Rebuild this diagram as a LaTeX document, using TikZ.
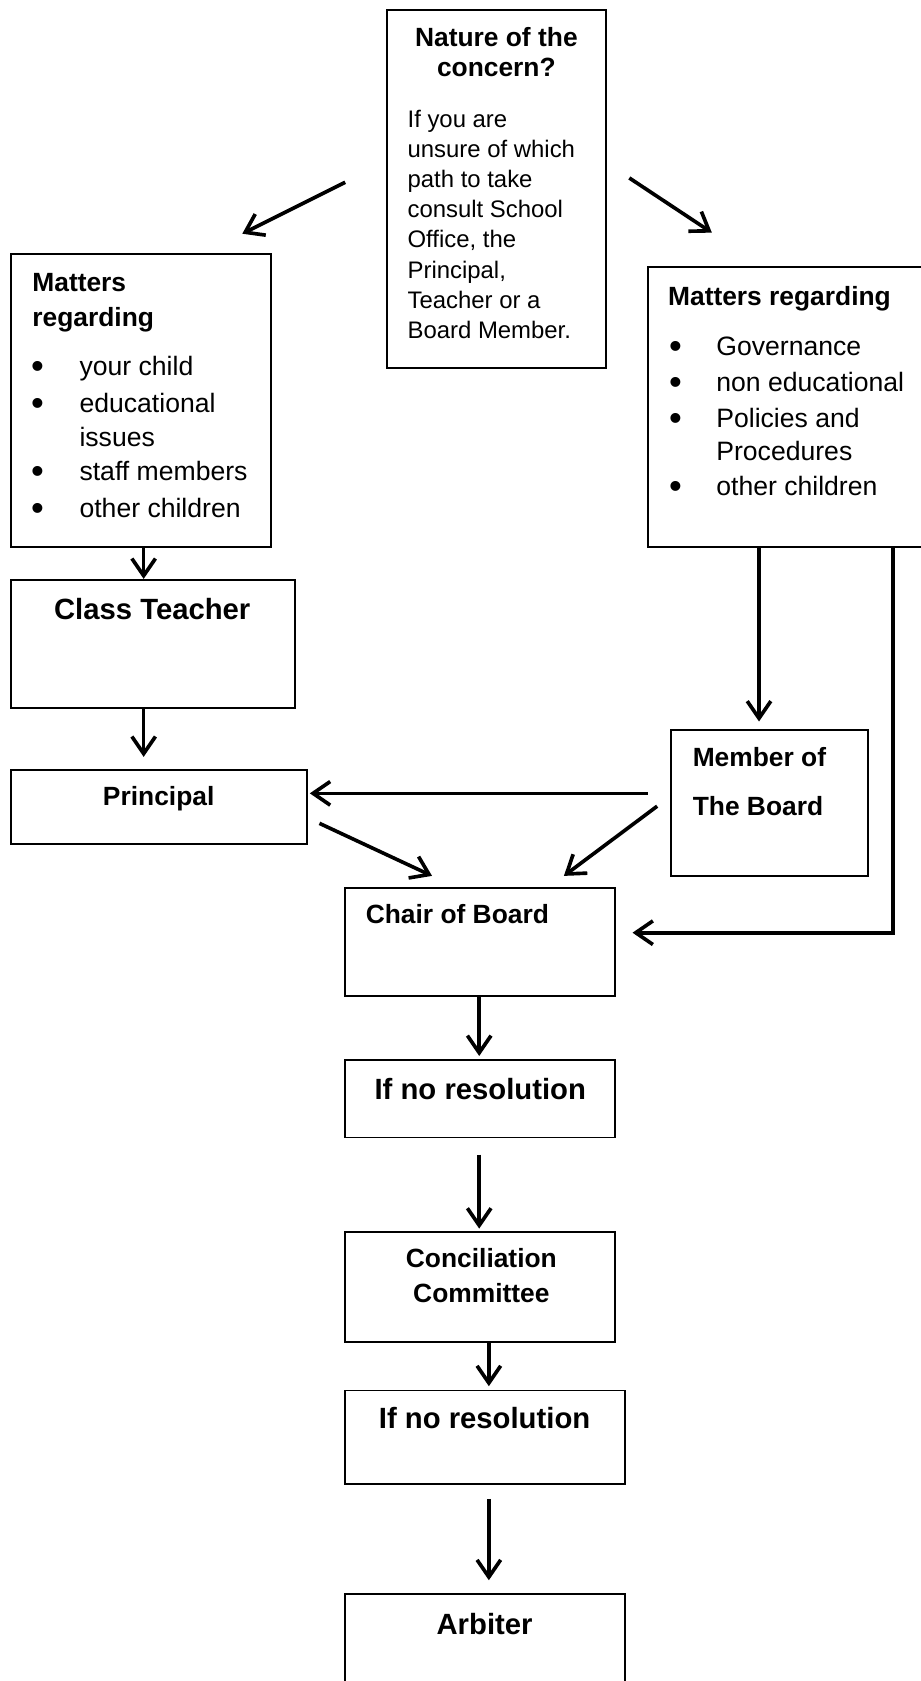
\documentclass[tikz,border=0pt]{standalone}
\usepackage{fontspec}
\setmainfont{Liberation Sans}
\usetikzlibrary{arrows.meta,calc}
\begin{document}
\begin{tikzpicture}[x=1pt,y=-1pt,
  box/.style={draw, line width=1.8pt, anchor=north west, inner sep=0pt, outer sep=0pt},
  arr/.style={line width=3.4pt, line join=miter, -{Straight Barb[length=16pt,width=22pt]}},
  tl/.style={anchor=base west, inner sep=0pt},
  tc/.style={anchor=base, inner sep=0pt},
  hb/.style={font=\fontsize{24.6}{30}\selectfont\bfseries},
  hbig/.style={font=\fontsize{27.3}{32}\selectfont\bfseries},
  bt/.style={font=\fontsize{24.8}{30}\selectfont},
  st/.style={font=\fontsize{22.3}{28}\selectfont},
  bul/.style={anchor=base, inner sep=0pt, font=\fontsize{34}{34}\selectfont},
]
\useasboundingbox (0,0) rectangle (859,1568);
\clip (0,0) rectangle (859,1568);

% boxes
\node[box, minimum width=204pt, minimum height=334pt] (nat) at (361,9) {};
\node[box, minimum width=243pt, minimum height=273pt] (lm) at (10,237) {};
\node[box, minimum width=262pt, minimum height=261pt] (rm) at (604,249) {};
\node[box, minimum width=265pt, minimum height=119pt] (ct) at (10,541) {};
\node[box, minimum width=276pt, minimum height=69pt] (pr) at (10,718) {};
\node[box, minimum width=184pt, minimum height=136pt] (mb) at (626,681) {};
\node[box, minimum width=252pt, minimum height=101pt] (ch) at (322,828) {};
\node[box, minimum width=252pt, minimum height=72pt] (nr1) at (322,989) {};
\node[box, minimum width=252pt, minimum height=103pt] (cc) at (322,1149) {};
\node[box, minimum width=261pt, minimum height=87pt] (nr2) at (322,1297) {};
\node[box, minimum width=261pt, minimum height=110pt] (ar) at (322,1487) {};

% Nature text
\node[tc,hb] (nat1) at (463,43.6) {Nature of the};
\node[tc,hb] (nat2) at (463,71.6) {concern?};
\node[tl,st] (nb1) at (380,119) {If you are};
\node[tl,st] (nb2) at (380,147) {unsure of which};
\node[tl,st] (nb3) at (380,175) {path to take};
\node[tl,st] (nb4) at (380,203) {consult School};
\node[tl,st] (nb5) at (380,231) {Office, the};
\node[tl,st] (nb6) at (380,260) {Principal,};
\node[tl,st] (nb7) at (380,288) {Teacher or a};
\node[tl,st] (nb8) at (380,316) {Board Member.};

% Left matters
\node[tl,hb] (lm1) at (30,271.6) {Matters};
\node[tl,hb] (lm2) at (30,304.6) {regarding};
\node[bul] (lb1) at (35,353.4) {•};
\node[tl,bt] (li1) at (74,350.6) {your child};
\node[bul] (lb2) at (35,387.4) {•};
\node[tl,bt] (li2) at (74,384.6) {educational};
\node[tl,bt] (li2b) at (74,416.6) {issues};
\node[bul] (lb3) at (35,451.4) {•};
\node[tl,bt] (li3) at (74,448.6) {staff members};
\node[bul] (lb4) at (35,485.4) {•};
\node[tl,bt] (li4) at (74,482.6) {other children};

% Right matters
\node[tl,hb] (rm1) at (623,284.6) {Matters regarding};
\node[bul] (rb1) at (630,334.4) {•};
\node[tl,bt] (ri1) at (668,331.6) {Governance};
\node[bul] (rb2) at (630,368.4) {•};
\node[tl,bt] (ri2) at (668,365.6) {non educational};
\node[bul] (rb3) at (630,401.4) {•};
\node[tl,bt] (ri3) at (668,398.6) {Policies and};
\node[tl,bt] (ri3b) at (668,429.6) {Procedures};
\node[bul] (rb4) at (630,465.4) {•};
\node[tl,bt] (ri4) at (668,462.6) {other children};

% other texts
\node[tc,hbig] (ctt) at (142,577.5) {Class Teacher};
\node[tc,hb] (prt) at (148,751.5) {Principal};
\node[tl,hb] (mbt1) at (646,714.6) {Member of};
\node[tl,hb] (mbt2) at (646,760.6) {The Board};
\node[tl,hb] (cht) at (341,861.6) {Chair of Board};
\node[tc,hbig] (nr1t) at (448,1025.5) {If no resolution};
\node[tc,hb] (cct1) at (449,1182.6) {Conciliation};
\node[tc,hb] (cct2) at (449,1214.6) {Committee};
\node[tc,hbig] (nr2t) at (452,1332.5) {If no resolution};
\node[tc,hbig] (art) at (452,1524.5) {Arbiter};

% connectors
\draw[arr] ($(nat.north west)+(-39,161)$) -- ($(lm.north west)+(216,-19)$);
\draw[arr] ($(nat.north east)+(22,157)$) -- ($(rm.north west)+(60,-32)$);
\draw[arr] ($(lm.south west)+(124,0)$) -- ($(ct.north west)+(124,-1)$);
\draw[arr] ($(ct.south west)+(124,0)$) -- ($(pr.north west)+(124,-12)$);
\draw[arr] ($(rm.south west)+(104,0)$) -- ($(mb.north west)+(82,-8)$);
\draw[arr] ($(rm.south west)+(229,0)$) |- ($(ch.north east)+(16,42)$);
\draw[arr] ($(mb.north west)+(-22,59)$) -- ($(pr.north east)+(3,22)$);
\draw[arr] ($(pr.north east)+(12,50)$) -- ($(ch.north west)+(81,-11)$);
\draw[arr] ($(mb.north west)+(-13,71)$) -- ($(ch.north west)+(204,-11)$);
\draw[arr] ($(ch.south west)+(125,0)$) -- ($(nr1.north west)+(125,-4)$);
\draw[arr] ($(nr1.south west)+(125,16)$) -- ($(cc.north west)+(125,-3)$);
\draw[arr] ($(cc.south west)+(134,0)$) -- ($(nr2.north west)+(134,-4)$);
\draw[arr] ($(nr2.south west)+(134,14)$) -- ($(ar.north west)+(134,-13)$);
\end{tikzpicture}
\end{document}
